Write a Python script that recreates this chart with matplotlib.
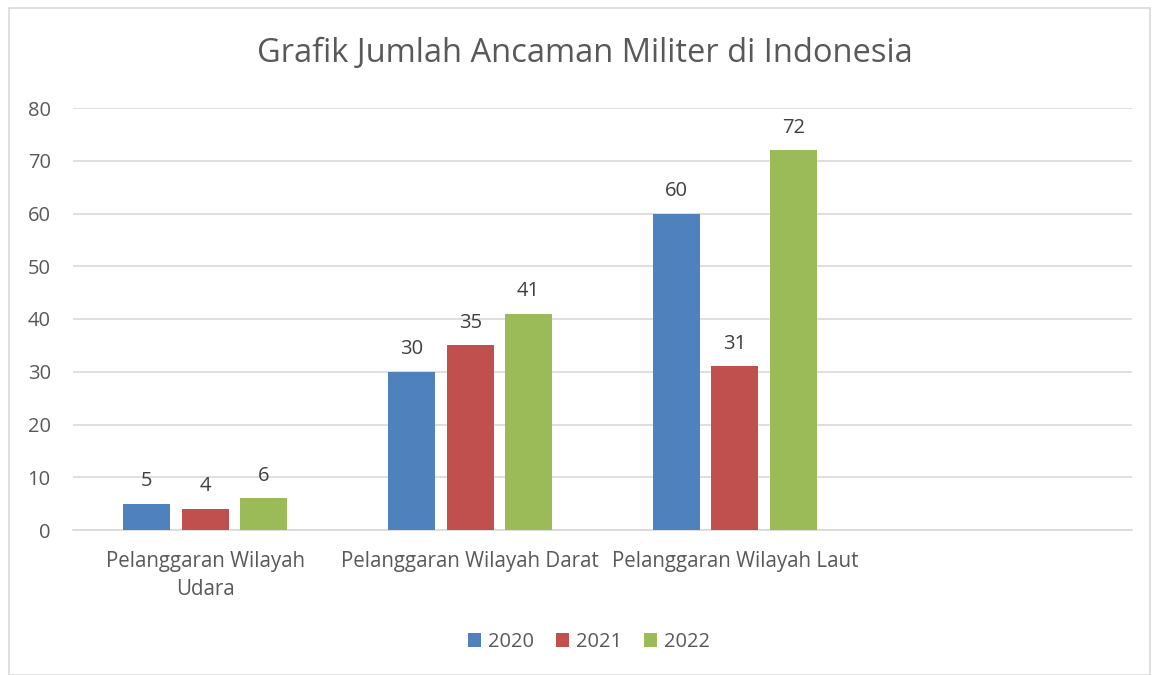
import numpy as np
import matplotlib.pyplot as plt
from matplotlib.patches import Rectangle

categories = ["Pelanggaran Wilayah\nUdara", "Pelanggaran Wilayah Darat", "Pelanggaran Wilayah Laut", ""]
years = ["2020", "2021", "2022"]
v2020 = [5, 30, 60, None]
v2021 = [4, 35, 31, None]
v2022 = [6, 41, 72, None]
colors = ["#4F81BD", "#C0504D", "#9BBB59"]

plt.rcParams["font.family"] = ["Open Sans", "DejaVu Sans"]
txt = "#595959"

fig = plt.figure(figsize=(11.53, 6.75), dpi=100)
fig.patches.append(Rectangle((9 / 1153, 0.0), 1141 / 1153, 1 - 8 / 675, transform=fig.transFigure,
                             fill=False, edgecolor="#D9D9D9", linewidth=1.2))
ax = fig.add_axes([73 / 1153, 1 - 530 / 675, (1132 - 73) / 1153, (530 - 108) / 675])

x = np.arange(len(categories))
w = 0.178
offs = [-0.221, 0, 0.221]
for vals, off, c, yr in zip([v2020, v2021, v2022], offs, colors, years):
    xs = [xi + off for xi, v in zip(x, vals) if v is not None]
    ys = [v for v in vals if v is not None]
    bars = ax.bar(xs, ys, width=w, color=c, label=yr, zorder=3)
    ax.bar_label(bars, padding=9, fontsize=14.5, color="#404040")

ax.set_xlim(-0.5, 3.5)
ax.set_ylim(0, 80)
ax.set_yticks(range(0, 81, 10))
ax.set_xticks(x)
ax.set_xticklabels(categories, fontsize=14.8, color=txt, linespacing=1.45)
ax.tick_params(axis="y", labelsize=14.5, labelcolor=txt, length=0, pad=16)
ax.tick_params(axis="x", length=0, pad=15)
ax.grid(axis="y", color="#D9D9D9", linewidth=1.2, zorder=0)
for s in ["top", "right", "left"]:
    ax.spines[s].set_visible(False)
ax.spines["bottom"].set_color("#D9D9D9")
ax.spines["bottom"].set_linewidth(1.2)

fig.text(585 / 1153, 1 - 53 / 675, "Grafik Jumlah Ancaman Militer di Indonesia", ha="center", va="center",
         fontsize=23.5, color=txt)

fig.legend(loc="center", bbox_to_anchor=(589 / 1153, 1 - 642 / 675), ncol=3, frameon=False,
           fontsize=14.5, labelcolor=txt, handlelength=0.65, handleheight=0.65, handletextpad=0.35,
           columnspacing=1.1)

fig.savefig("out.png", dpi=100)
